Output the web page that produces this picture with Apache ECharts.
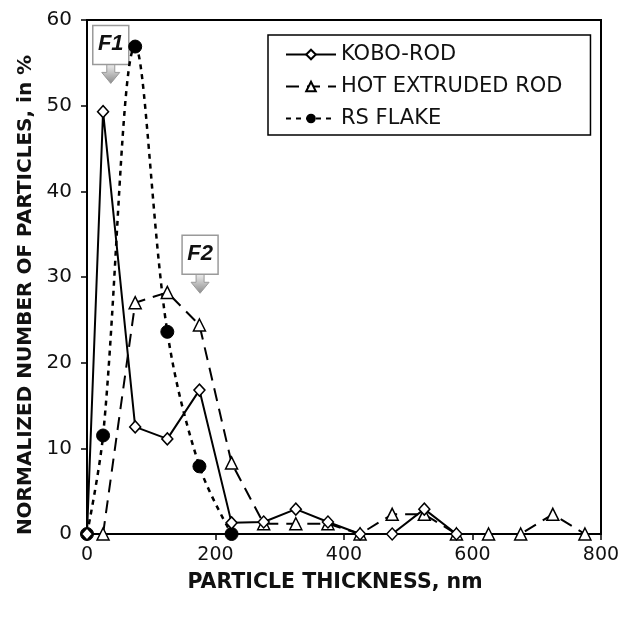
<!DOCTYPE html>
<html>
<head>
<meta charset="utf-8">
<script src="https://cdn.jsdelivr.net/npm/echarts@6/dist/echarts.min.js"></script>
<style>
  html, body { margin: 0; padding: 0; background: #fff; }
  #main { width: 633px; height: 617px; }
</style>
</head>
<body>
<div id="main"></div>
<script>
// particle thickness, nm
var koboX = [0, 25, 75, 125, 175, 225, 275, 325, 375, 425, 475, 525, 575];
var koboY = [0, 49.3, 12.5, 11.1, 16.8, 1.3, 1.4, 2.9, 1.4, 0, 0, 2.9, 0];

var hotX = [25, 75, 125, 175, 225, 275, 325, 375, 425, 475, 525, 575, 625, 675, 725, 775];
var hotY = [0, 27.0, 28.2, 24.4, 8.3, 1.2, 1.2, 1.2, 0, 2.3, 2.3, 0, 0, 0, 2.3, 0];

var flakeX = [0, 25, 75, 125, 175, 225];
var flakeY = [0, 11.5, 56.9, 23.6, 7.9, 0];

var seriesNames = ['KOBO-ROD', 'HOT EXTRUDED ROD', 'RS FLAKE'];

// callout arrows, tip position in data units
var callouts = [
    { label: 'F1', x: 37, y: 52.6 },
    { label: 'F2', x: 176, y: 28.1 }
];

function pairs(xs, ys) {
    var res = [];
    for (var i = 0; i < xs.length; i++) {
        res.push([xs[i], ys[i]]);
    }
    return res;
}

var font = 'DejaVu Sans';

var dom = document.getElementById('main');
var myChart = echarts.init(dom);
var option = {
    animation: false,
    backgroundColor: '#fff',
    grid: {
        left: 87,
        right: 32,
        top: 20,
        bottom: 83,
        show: true,
        borderColor: '#000',
        borderWidth: 2
    },
    legend: {
        orient: 'vertical',
        left: 268,
        top: 35,
        data: seriesNames,
        borderColor: '#000',
        borderWidth: 1.5,
        padding: [9, 28, 6, 17],
        itemWidth: 50,
        itemHeight: 12,
        itemGap: 11,
        backgroundColor: '#fff',
        textStyle: { fontFamily: font, fontSize: 21, color: '#111', lineHeight: 21 }
    },
    xAxis: {
        type: 'value',
        min: 0,
        max: 800,
        interval: 200,
        name: 'PARTICLE THICKNESS, nm',
        nameLocation: 'middle',
        nameGap: 38,
        nameTextStyle: {
            fontFamily: font, fontSize: 20.5, fontWeight: 'bold', color: '#111',
            padding: [0, 18, 0, 0]
        },
        axisLine: { show: true, lineStyle: { color: '#000', width: 2 } },
        axisTick: { show: true, inside: false, length: 6, lineStyle: { color: '#000', width: 1.5 } },
        axisLabel: { fontFamily: font, fontSize: 19, color: '#111', margin: 12 },
        splitLine: { show: false }
    },
    yAxis: {
        type: 'value',
        min: 0,
        max: 60,
        interval: 10,
        name: 'NORMALIZED NUMBER OF PARTICLES, in %',
        nameLocation: 'middle',
        nameGap: 50,
        nameTextStyle: {
            fontFamily: font, fontSize: 20, fontWeight: 'bold', color: '#111',
            padding: [0, 36, 0, 0]
        },
        axisLine: { show: true, lineStyle: { color: '#000', width: 2 } },
        axisTick: { show: true, inside: false, length: 6, lineStyle: { color: '#000', width: 1.5 } },
        axisLabel: { fontFamily: font, fontSize: 20, color: '#111', margin: 15 },
        splitLine: { show: false }
    },
    series: [
        {
            name: seriesNames[0],
            type: 'line',
            data: pairs(koboX, koboY),
            symbol: 'diamond',
            symbolSize: [11, 12],
            itemStyle: { color: '#fff', borderColor: '#000', borderWidth: 1.5 },
            lineStyle: { color: '#000', width: 2 },
            z: 4
        },
        {
            name: seriesNames[1],
            type: 'line',
            data: pairs(hotX, hotY),
            symbol: 'triangle',
            symbolSize: 12,
            itemStyle: { color: '#fff', borderColor: '#000', borderWidth: 1.5 },
            lineStyle: { color: '#000', width: 2, type: [13, 8] },
            z: 3
        },
        {
            name: seriesNames[2],
            type: 'line',
            data: pairs(flakeX, flakeY),
            smooth: 0.35,
            symbol: 'circle',
            symbolSize: 13,
            itemStyle: { color: '#000', borderColor: '#000' },
            lineStyle: { color: '#000', width: 2.5, type: [5, 5] },
            z: 2
        }
    ]
};

myChart.setOption(option, true);

// callout boxes with down arrows, placed at data positions
var graphics = [];
for (var i = 0; i < callouts.length; i++) {
    var p = myChart.convertToPixel({ gridIndex: 0 }, [callouts[i].x, callouts[i].y]);
    graphics.push({
        type: 'group',
        x: p[0],
        y: p[1],
        z: 10,
        children: [
            {
                type: 'polygon',
                shape: { points: [[-4, -20], [4, -20], [4, -11], [9, -11], [0, 0], [-9, -11], [-4, -11]] },
                style: {
                    fill: new echarts.graphic.LinearGradient(0, 0, 0, 1, [
                        { offset: 0, color: '#f4f4f4' },
                        { offset: 1, color: '#8a8a8a' }
                    ]),
                    stroke: '#9a9a9a',
                    lineWidth: 1
                }
            },
            {
                type: 'rect',
                shape: { x: -18, y: -58, width: 36, height: 39 },
                style: { fill: '#fff', stroke: '#9a9a9a', lineWidth: 1.5 }
            },
            {
                type: 'text',
                x: 0,
                y: -39,
                style: {
                    text: callouts[i].label,
                    fontFamily: 'Liberation Sans',
                    fontSize: 22,
                    fontWeight: 'bold',
                    fontStyle: 'italic',
                    fill: '#111',
                    align: 'center',
                    verticalAlign: 'middle'
                }
            }
        ]
    });
}
myChart.setOption({ graphic: graphics });
</script>
</body>
</html>
